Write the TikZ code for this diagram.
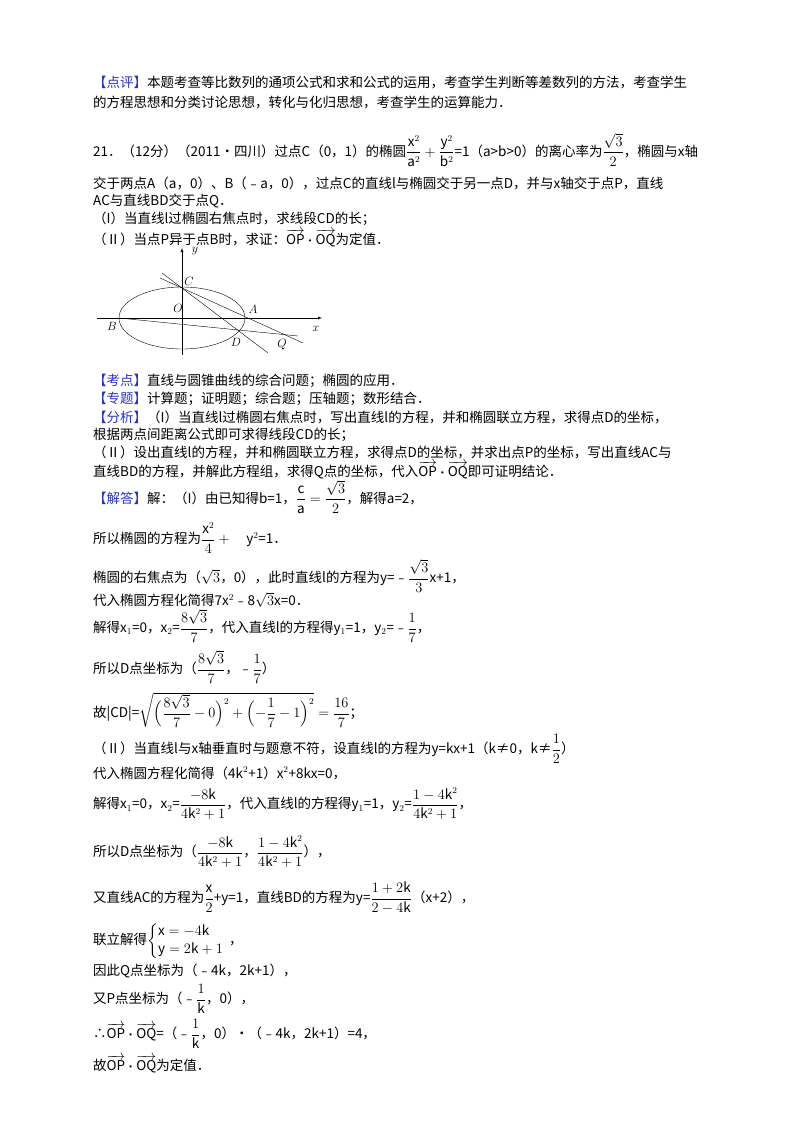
\documentclass[tikz,border=0pt]{standalone}
\usepackage{amsmath}
\usepackage{fontspec}
\setmainfont{Noto Sans CJK SC}
\definecolor{lblue}{RGB}{40,50,200}
\newcommand\lab[1]{\textcolor{lblue}{【#1】}}
\newcommand\opoq{$\overrightarrow{\mathrm{OP}}\boldsymbol{\cdot}\overrightarrow{\mathrm{OQ}}$}
\begin{document}
\begin{tikzpicture}[x=1pt,y=-1pt,
  ln/.style={anchor=west,inner sep=0pt,font=\fontsize{13.5}{16}\selectfont},
  pl/.style={font=\fontsize{12}{12}\selectfont,inner sep=1pt}]
\useasboundingbox (0,0) rectangle (800,1132);
\node[ln] (l1) at (93,82) {\lab{点评}本题考查等比数列的通项公式和求和公式的运用，考查学生判断等差数列的方法，考查学生};
\node[ln] (l2) at (93,102) {的方程思想和分类讨论思想，转化与化归思想，考查学生的运算能力．};
\node[ln] (l3) at (93,150) {21．（12分）（2011•四川）过点C（0，1）的椭圆$\dfrac{\mathrm{x}^2}{\mathrm{a}^2}+\dfrac{\mathrm{y}^2}{\mathrm{b}^2}$=1（a>b>0）的离心率为$\dfrac{\sqrt3}{2}$，椭圆与x轴};
\node[ln] (l4) at (93,183) {交于两点A（a，0）、B（﹣a，0），过点C的直线l与椭圆交于另一点D，并与x轴交于点P，直线};
\node[ln] (l5) at (93,201) {AC与直线BD交于点Q．};
\node[ln] (l6) at (93,219) {（I）当直线l过椭圆右焦点时，求线段CD的长；};
\node[ln] (l7) at (93,238) {（Ⅱ）当点P异于点B时，求证：\opoq 为定值．};
% figure
\draw[-latex] (97,318) -- (322,318);
\draw[-latex] (182,355) -- (182,248);
\draw (182,318) ellipse [x radius=63,y radius=31];
\draw (162,273) -- (268,353);
\draw (160,278) -- (303,343);
\draw (119,318) -- (298,336);
\node[pl] (py) at (195,251) {$y$};
\node[pl] (pC) at (189,281) {$C$};
\node[pl] (pO) at (178,308) {$O$};
\node[pl] (pA) at (253,309) {$A$};
\node[pl] (pB) at (112,326) {$B$};
\node[pl] (px) at (316,329) {$x$};
\node[pl] (pD) at (236,342) {$D$};
\node[pl] (pQ) at (282,345) {$Q$};
% text
\node[ln] (m1) at (93,381) {\lab{考点}直线与圆锥曲线的综合问题；椭圆的应用．};
\node[ln] (m2) at (93,399) {\lab{专题}计算题；证明题；综合题；压轴题；数形结合．};
\node[ln] (m3) at (93,417) {\lab{分析}（I）当直线l过椭圆右焦点时，写出直线l的方程，并和椭圆联立方程，求得点D的坐标，};
\node[ln] (m4) at (93,435) {根据两点间距离公式即可求得线段CD的长；};
\node[ln] (m5) at (93,452) {（Ⅱ）设出直线l的方程，并和椭圆联立方程，求得点D的坐标，并求出点P的坐标，写出直线AC与};
\node[ln] (m6) at (93,470) {直线BD的方程，并解此方程组，求得Q点的坐标，代入\opoq 即可证明结论．};
\node[ln] (m7) at (93,497) {\lab{解答}解：（I）由已知得b=1，$\dfrac{\mathrm c}{\mathrm a}=\dfrac{\sqrt3}{2}$，解得a=2，};
\node[ln] (m8) at (93,538) {所以椭圆的方程为$\dfrac{\mathrm x^2}{4}+\quad\mathrm y^2$=1．};
\node[ln] (m9) at (93,576) {椭圆的右焦点为（$\sqrt3$，0），此时直线l的方程为y=﹣$\dfrac{\sqrt3}{3}$x+1，};
\node[ln] (m10) at (93,600) {代入椭圆方程化简得7x$^2$﹣8$\sqrt3$x=0．};
\node[ln] (m11) at (93,626) {解得x$_1$=0，x$_2$=$\dfrac{8\sqrt3}{7}$，代入直线l的方程得y$_1$=1，y$_2$=﹣$\dfrac17$，};
\node[ln] (m12) at (93,667) {所以D点坐标为（$\dfrac{8\sqrt3}{7}$，﹣$\dfrac17$）};
\node[ln] (m13) at (93,710) {故|CD|=$\sqrt{\Bigl(\dfrac{8\sqrt3}{7}-0\Bigr)^2+\Bigl(-\dfrac17-1\Bigr)^2}=\dfrac{16}{7}$；};
\node[ln] (m14) at (93,749) {（Ⅱ）当直线l与x轴垂直时与题意不符，设直线l的方程为y=kx+1（k≠0，k≠$\dfrac12$）};
\node[ln] (m15) at (93,773) {代入椭圆方程化简得（4k$^2$+1）x$^2$+8kx=0，};
\node[ln] (m16) at (93,804) {解得x$_1$=0，x$_2$=$\dfrac{-8\mathrm k}{4\mathrm k^2+1}$，代入直线l的方程得y$_1$=1，y$_2$=$\dfrac{1-4\mathrm k^2}{4\mathrm k^2+1}$，};
\node[ln] (m17) at (93,852) {所以D点坐标为（$\dfrac{-8\mathrm k}{4\mathrm k^2+1}$，$\dfrac{1-4\mathrm k^2}{4\mathrm k^2+1}$），};
\node[ln] (m18) at (93,898) {又直线AC的方程为$\dfrac{\mathrm x}{2}$+y=1，直线BD的方程为y=$\dfrac{1+2\mathrm k}{2-4\mathrm k}$（x+2），};
\node[ln] (m19) at (93,941) {联立解得$\left\{\begin{array}{@{}l}\mathrm{x}=-4\mathrm{k}\\[2pt]\mathrm{y}=2\mathrm{k}+1\end{array}\right.$，};
\node[ln] (m20) at (93,971) {因此Q点坐标为（﹣4k，2k+1），};
\node[ln] (m21) at (93,999) {又P点坐标为（﹣$\dfrac1{\mathrm k}$，0），};
\node[ln] (m22) at (93,1034) {∴\opoq =（﹣$\dfrac1{\mathrm k}$，0）•（﹣4k，2k+1）=4，};
\node[ln] (m23) at (93,1064) {故\opoq 为定值．};
\end{tikzpicture}
\end{document}
